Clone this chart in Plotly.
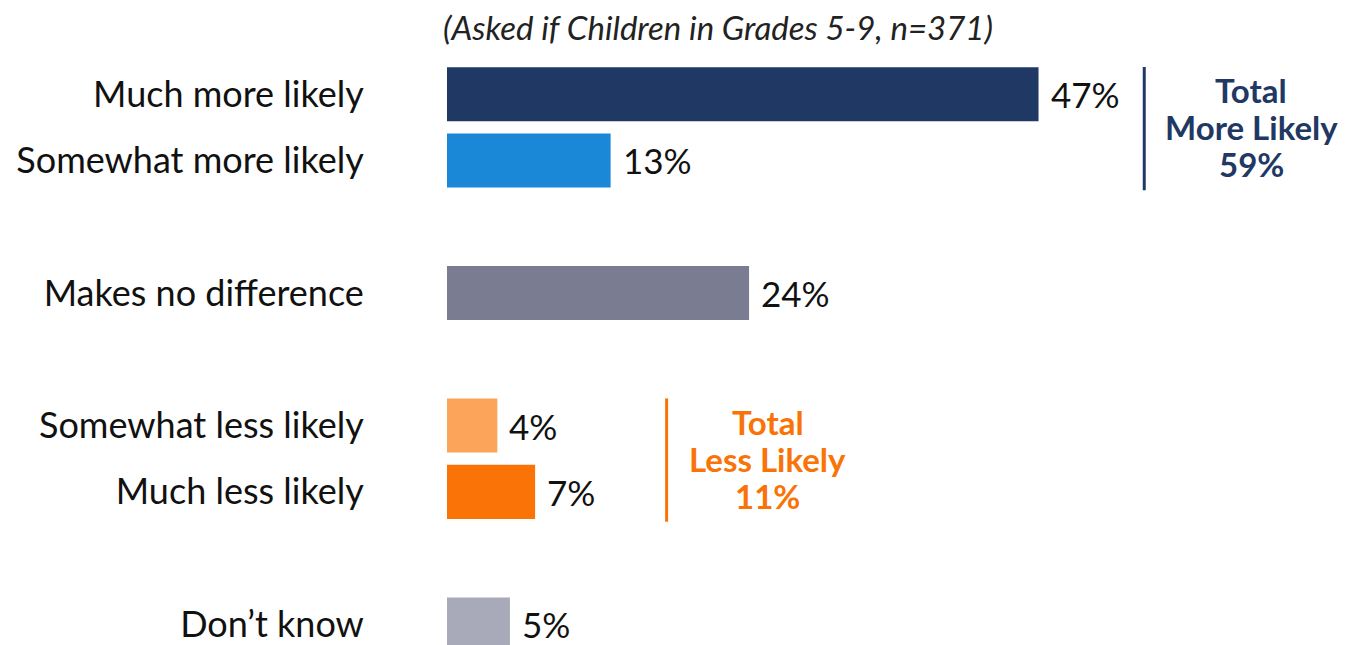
import plotly.graph_objects as go

# survey answers, top to bottom
labels = ["Much more likely", "Somewhat more likely", "Makes no difference",
          "Somewhat less likely", "Much less likely", "Don’t know"]
values = [47, 13, 24, 4, 7, 5]
groups = [0, 0, 1, 2, 2, 3]
bar_colors = ["#1F3864", "#1A87D7", "#7A7C92", "#FCA45A", "#F97306", "#A9AAB9"]

total_more = 59
total_less = 11

subtitle = "(Asked if Children in Grades 5-9, n=371)"

# one empty slot between groups
ypos = [i + g for i, g in enumerate(groups)]

FONT = "Lato"

fig = go.Figure(go.Bar(
    x=values,
    y=ypos,
    orientation="h",
    width=0.815,
    marker=dict(color=bar_colors, line=dict(width=0)),
    hoverinfo="skip",
))

# value labels next to the bars
for v, p in zip(values, ypos):
    fig.add_annotation(x=v, y=p, text=f"{v}%", showarrow=False,
                       xanchor="left", yanchor="middle", xshift=10,
                       font=dict(family=FONT, size=35, color="#111111"))

# bracket lines + totals (three lines, tight spacing)
def add_total(first, last, xline, xtext, lines, color):
    fig.add_shape(type="line", xref="x", yref="y",
                  x0=xline, x1=xline, y0=first - 0.41, y1=last + 0.45,
                  line=dict(color=color, width=3))
    mid = (first + last) / 2
    for k, t in enumerate(lines):
        fig.add_annotation(x=xtext, y=mid, text=t, showarrow=False,
                           xanchor="center", yanchor="middle", yshift=(1 - k) * 37,
                           font=dict(family=FONT, size=33, color=color, weight="bold"))

add_total(ypos[0], ypos[1], 55.4, 63.9,
          ["Total", "More Likely", f"{total_more}%"], "#1F3864")
add_total(ypos[3], ypos[4], 17.45, 25.5,
          ["Total", "Less Likely", f"{total_less}%"], "#F97306")

fig.update_layout(
    width=1350, height=645,
    paper_bgcolor="white", plot_bgcolor="white",
    margin=dict(l=436, r=30, t=53, b=8),
    showlegend=False,
    title=dict(text=f"<i>{subtitle}</i>", xref="container", yref="container",
               x=710 / 1350, y=1 - 20 / 645, xanchor="center", yanchor="middle",
               font=dict(family=FONT, size=33, color="#222222")),
    xaxis=dict(range=[0, 70], visible=False, fixedrange=True),
    yaxis=dict(range=[8.31, -0.5], tickvals=ypos, ticktext=labels,
               showgrid=False, zeroline=False, showline=False,
               ticks="outside", ticklen=75, tickcolor="rgba(0,0,0,0)",
               tickfont=dict(family=FONT, size=36, color="#111111"),
               fixedrange=True),
    font=dict(family=FONT),
)

fig.write_html("out.html")
